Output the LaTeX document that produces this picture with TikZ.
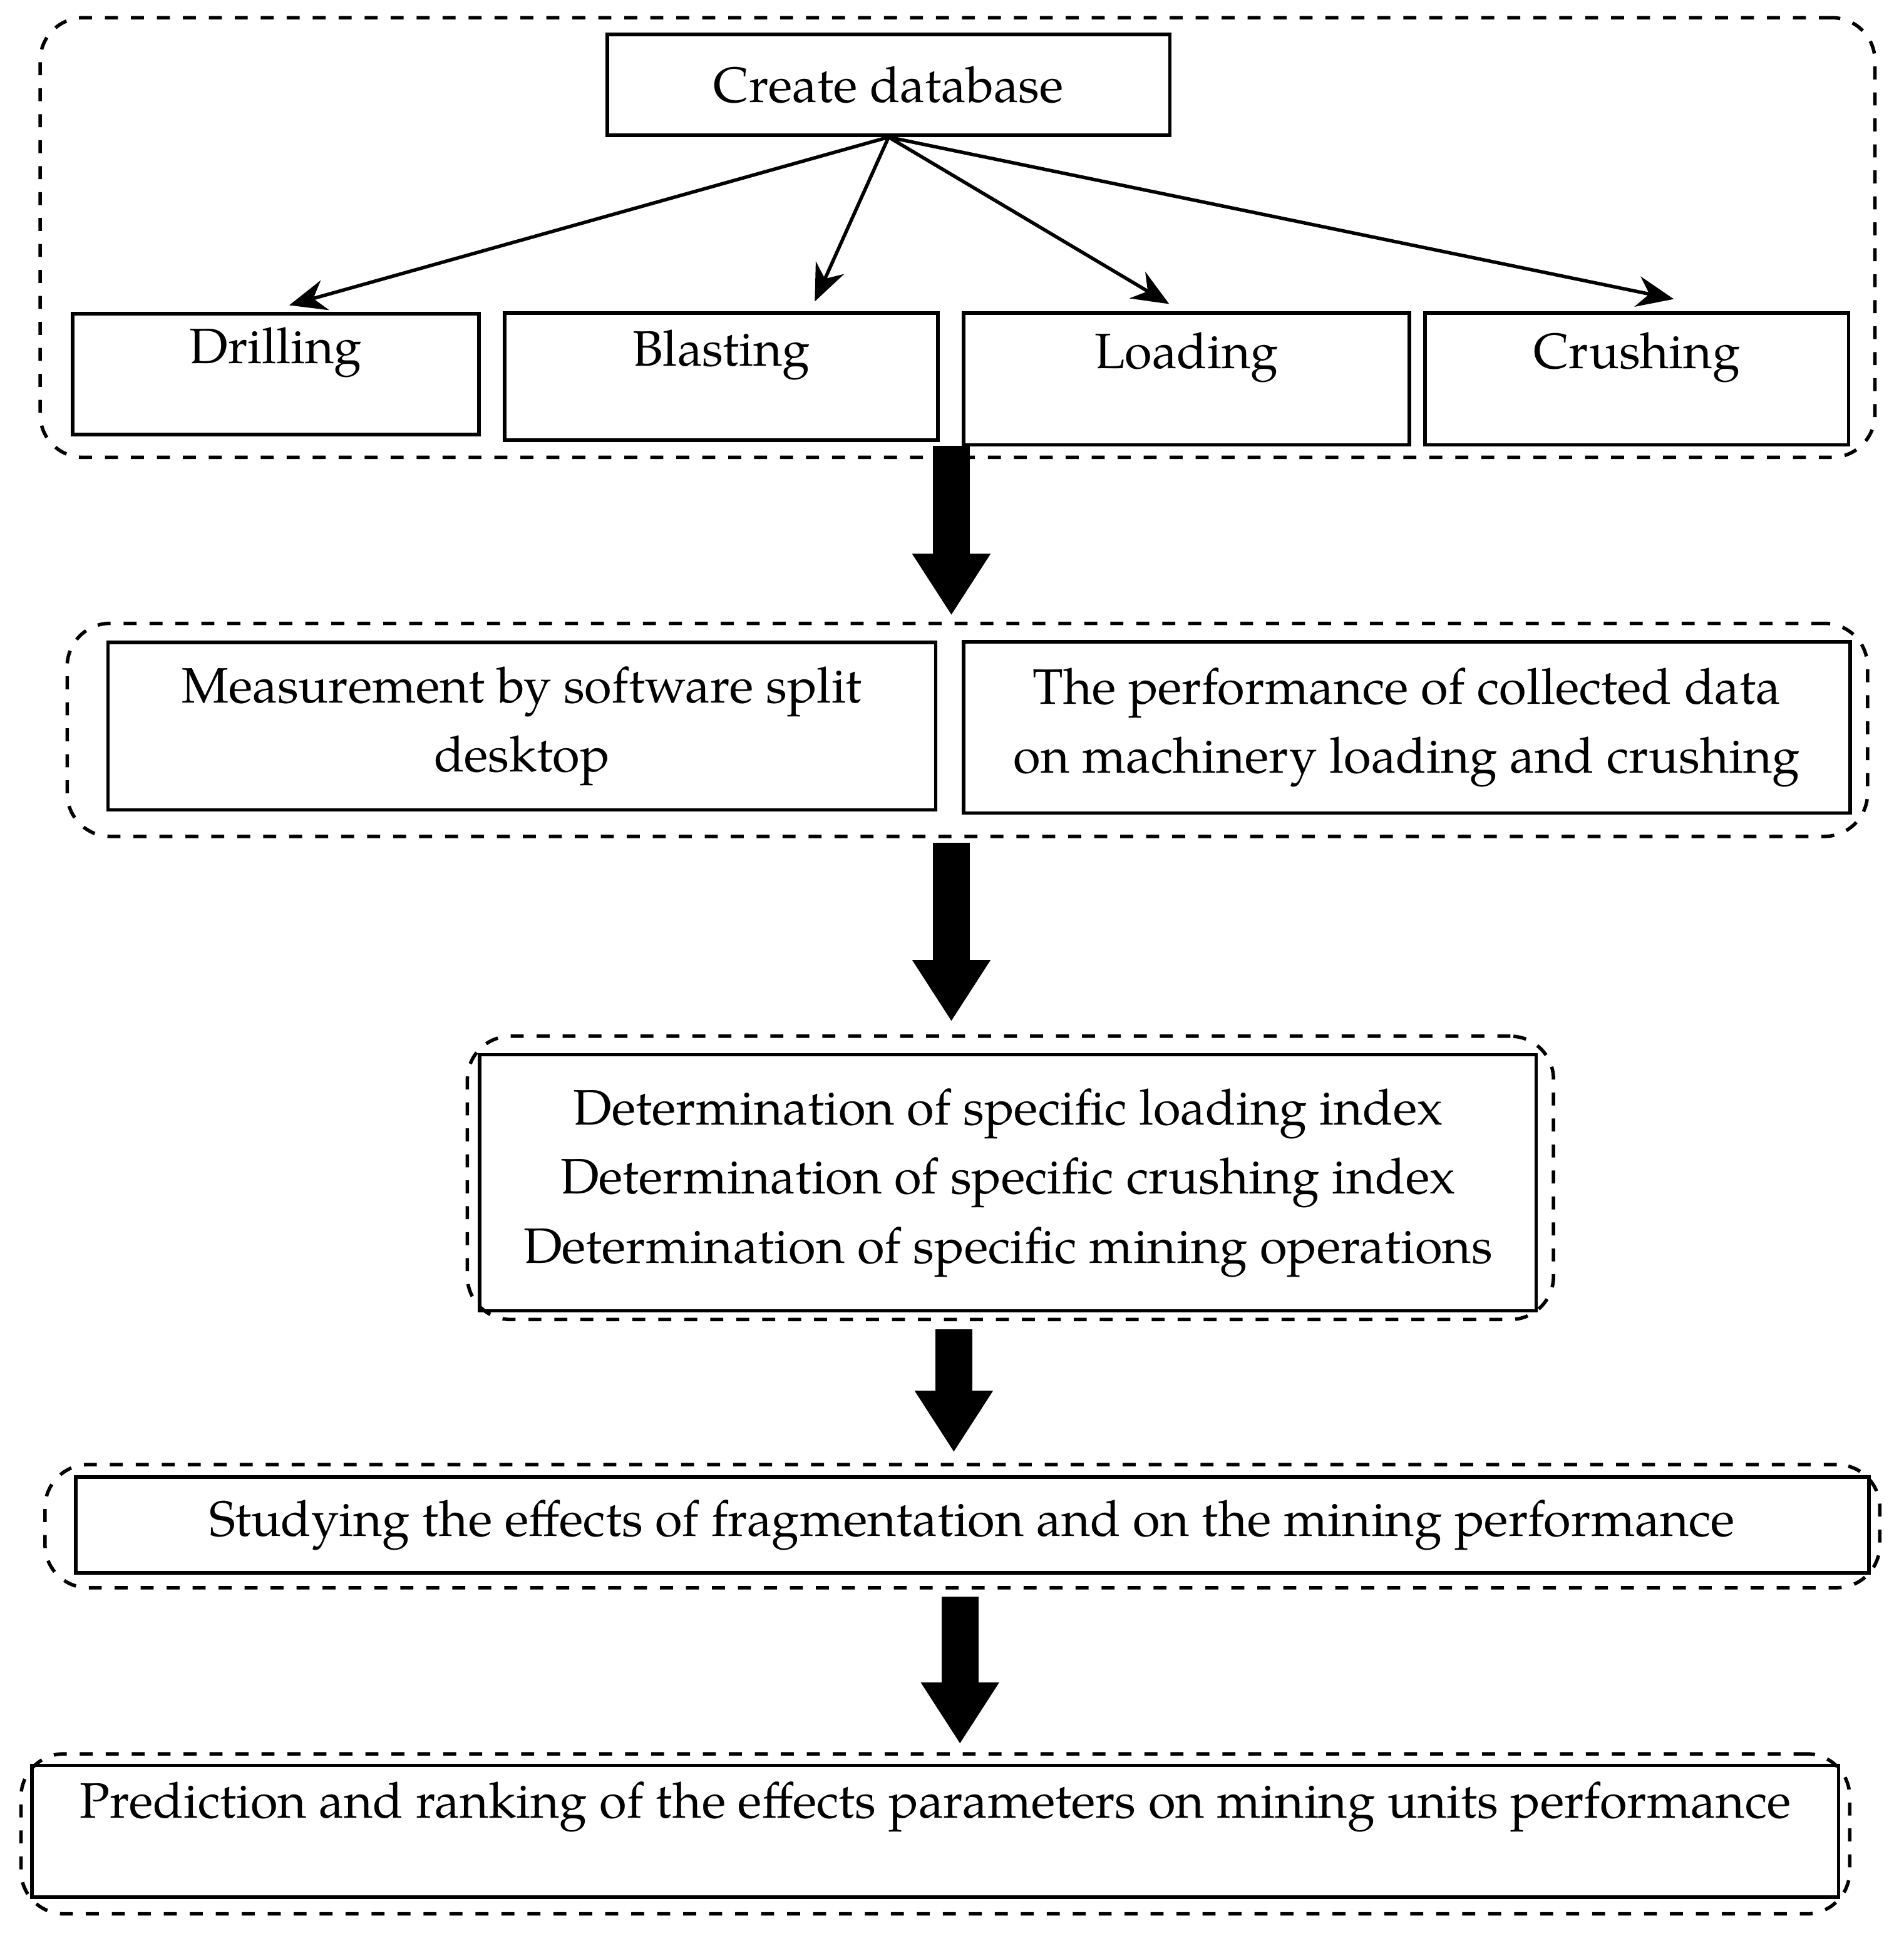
\documentclass[tikz,border=0pt]{standalone}
\usepackage{fontspec}
\setmainfont{TeX Gyre Pagella}
\usetikzlibrary{arrows.meta}
\begin{document}
\begin{tikzpicture}[x=0.01cm, y=-0.01cm,
    box/.style={draw, thick, inner sep=0pt, font=\fontsize{11.5}{16}\selectfont, align=center},
    group/.style={draw, thick, dashed, rounded corners=0.35cm, inner sep=0pt},
    thin arrow/.style={thick, -{Stealth[length=0.3cm,width=0.25cm]}},
    fat arrow/.style={line width=0.3cm, -{Triangle[length=0.5cm,width=0.6cm]}}]
        \useasboundingbox (0,0) rectangle (1547,1573);
        %groups
        \node[group, minimum width=14.9cm, minimum height=3.57cm] (g1) at (778,193) {};
        \node[group, minimum width=14.62cm, minimum height=1.73cm] (g2) at (786,593) {};
        \node[group, minimum width=8.82cm, minimum height=2.3cm] (g3) at (821,957) {};
        \node[group, minimum width=14.9cm, minimum height=1.0cm] (g4) at (782,1240) {};
        \node[group, minimum width=14.85cm, minimum height=1.3cm] (g5) at (760,1490) {};
        
        %boxes
        \node[box, minimum width=4.57cm, minimum height=0.82cm] (db) at (722,69) {Create database};
        \node[box, minimum width=3.3cm, minimum height=0.98cm] (dr) at (224,304) {Drilling\\[-0.1cm]};
        \node[box, minimum width=3.52cm, minimum height=1.03cm] (bl) at (586,306) {Blasting\\[-0.1cm]};
        \node[box, minimum width=3.62cm, minimum height=1.07cm] (lo) at (964,308) {Loading\\[-0.1cm]};
        \node[box, minimum width=3.44cm, minimum height=1.07cm] (cr) at (1330,308) {Crushing\\[-0.1cm]};
        
        \node[box, minimum width=6.72cm, minimum height=1.36cm] (ms) at (424,590) {Measurement by software split\\desktop};
        \node[box, minimum width=7.2cm, minimum height=1.39cm] (pf) at (1143,591) {The performance of collected data\\on machinery loading and crushing};
        
        \node[box, minimum width=8.58cm, minimum height=2.08cm] (di) at (819,961) {Determination of specific loading index\\Determination of specific crushing index\\Determination of specific mining operations};
        
        \node[box, minimum width=14.56cm, minimum height=0.78cm] (st) at (790,1239) {Studying the effects of fragmentation and on the mining performance};
        
        \node[box, minimum width=14.67cm, minimum height=1.07cm] (pr) at (760,1488) {Prediction and ranking of the effects parameters on mining units performance\\[-0.05cm]};
        
        %thin arrows
        \draw[thin arrow] (db.south) -- (235,248);
        \draw[thin arrow] (db.south) -- (662,245);
        \draw[thin arrow] (db.south) -- (950,247);
        \draw[thin arrow] (db.south) -- (1360,243);
        
        %fat arrows
        \draw[fat arrow] (773,362) -- (773,500);
        \draw[fat arrow] (773,685) -- (773,830);
        \draw[fat arrow] (775,1080) -- (775,1180);
        \draw[fat arrow] (780,1297) -- (780,1417);
\end{tikzpicture}
\end{document}
